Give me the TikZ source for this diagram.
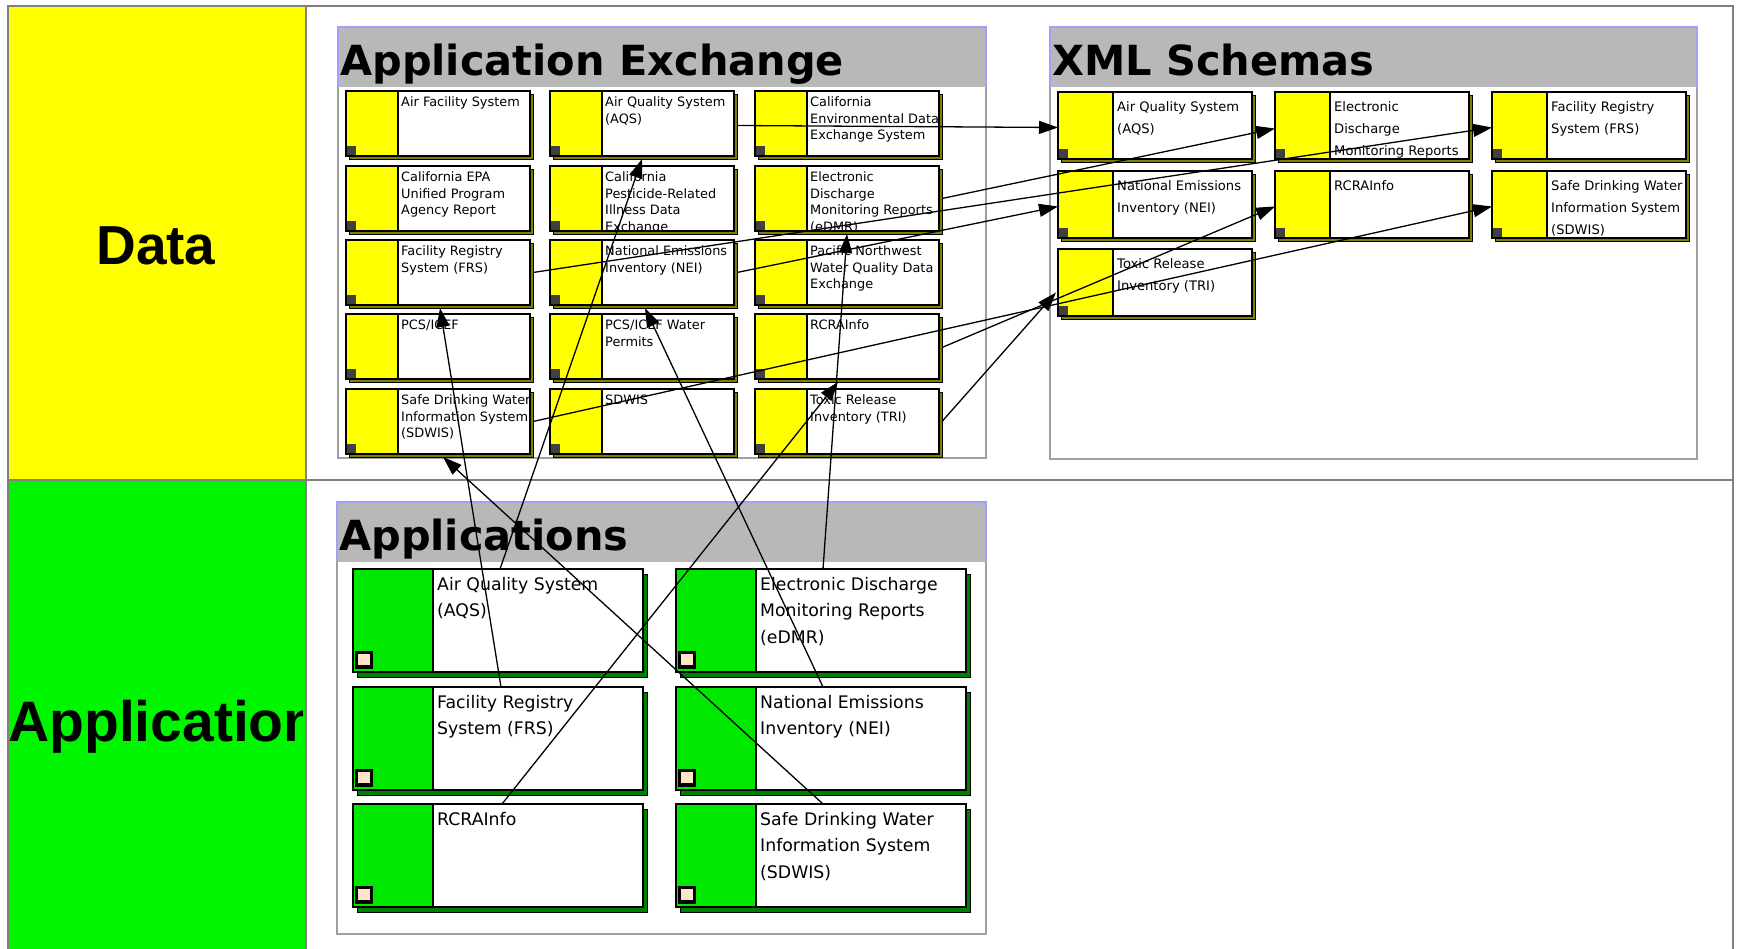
\documentclass[tikz,border=0pt]{standalone}
\usepackage{fontspec}
\setmainfont{DejaVu Sans}
\newfontfamily\lanefont{Liberation Sans}
\usetikzlibrary{arrows.meta,calc}
\definecolor{laneY}{RGB}{255,255,0}
\definecolor{laneG}{RGB}{0,245,0}
\definecolor{boxY}{RGB}{255,255,0}
\definecolor{boxG}{RGB}{0,232,0}
\definecolor{shadowY}{RGB}{128,128,0}
\definecolor{shadowG}{RGB}{0,128,0}
\definecolor{hdrfill}{RGB}{184,184,184}
\definecolor{hdrline}{RGB}{160,160,255}
\definecolor{framegray}{RGB}{160,160,160}
\definecolor{lanegrid}{RGB}{128,128,128}
\definecolor{peach}{RGB}{255,228,200}
\definecolor{darksq}{RGB}{64,64,64}
\newcommand{\smalltxt}{\fontsize{12.9}{16.5}\selectfont}
\newcommand{\xmltxt}{\fontsize{13.1}{21.7}\selectfont}
\newcommand{\apptxt}{\fontsize{17.3}{26.7}\selectfont}
\newcommand{\hdrtxt}{\bfseries\fontsize{41.5}{48}\selectfont}
\newcommand{\lanetxt}{\lanefont\bfseries\fontsize{55}{60}\selectfont}
\newcommand{\lanetxtb}{\lanefont\bfseries\fontsize{57}{60}\selectfont}
\tikzset{
  boxframe/.style={draw=black, line width=1.4pt, inner sep=0pt, outer sep=0pt, anchor=north west},
  conn/.style={line width=1.3pt, -{Triangle[length=19pt,width=13pt]}},
  boxtext/.style={anchor=base west, inner sep=0pt},
  gridline/.style={draw=lanegrid, line width=1.6pt},
}
\newcommand{\exbox}[4]{%
  \fill[shadowY,draw=black,line width=0.6pt] (#2+3,#3+3) rectangle (#2+187,#3+68);
  \fill[white] (#2,#3) rectangle (#2+184,#3+65);
  \fill[boxY] (#2,#3) rectangle (#2+52,#3+65);
  \draw[line width=1.2pt] (#2+52,#3) -- (#2+52,#3+65);
  \fill[darksq] (#2+1,#3+55) rectangle (#2+10,#3+64);
  \begin{scope}
    \clip (#2+53,#3+1) rectangle (#2+183,#3+64);
    \node[boxtext] (#1-t) at (#2+55,#3+16) {\parbox[t]{260pt}{\smalltxt\raggedright #4}};
  \end{scope}
  \node[boxframe, minimum width=184pt, minimum height=65pt] (#1) at (#2,#3) {};
}
\newcommand{\xmlbox}[4]{%
  \fill[shadowY,draw=black,line width=0.6pt] (#2+3,#3+3) rectangle (#2+197,#3+70);
  \fill[white] (#2,#3) rectangle (#2+194,#3+67);
  \fill[boxY] (#2,#3) rectangle (#2+55,#3+67);
  \draw[line width=1.2pt] (#2+55,#3) -- (#2+55,#3+67);
  \fill[darksq] (#2+1,#3+57) rectangle (#2+10,#3+66);
  \begin{scope}
    \clip (#2+56,#3+1) rectangle (#2+193,#3+66);
    \node[boxtext] (#1-t) at (#2+59,#3+20) {\parbox[t]{260pt}{\xmltxt\raggedright #4}};
  \end{scope}
  \node[boxframe, minimum width=194pt, minimum height=67pt] (#1) at (#2,#3) {};
}
\newcommand{\appbox}[4]{%
  \fill[shadowG,draw=black,line width=0.6pt] (#2+4,#3+5) rectangle (#2+294,#3+108);
  \fill[white] (#2,#3) rectangle (#2+290,#3+103);
  \fill[boxG] (#2,#3) rectangle (#2+80,#3+103);
  \draw[line width=1.2pt] (#2+80,#3) -- (#2+80,#3+103);
  \fill[black] (#2+2,#3+82) rectangle (#2+20,#3+100);
  \fill[peach] (#2+5,#3+85) rectangle (#2+17,#3+96);
  \begin{scope}
    \clip (#2+81,#3+1) rectangle (#2+289,#3+102);
    \node[boxtext] (#1-t) at (#2+84,#3+21) {\parbox[t]{260pt}{\apptxt\raggedright #4}};
  \end{scope}
  \node[boxframe, minimum width=290pt, minimum height=103pt] (#1) at (#2,#3) {};
}
\newcommand{\container}[6]{%
  \draw[draw=framegray, line width=1.2pt, fill=white] (#2,#3) rectangle (#4,#5);
  \fill[hdrfill] (#2,#3) rectangle (#4,#3+60);
  \draw[hdrline, line width=1.2pt] (#2,#3+60) -- (#2,#3) -- (#4,#3) -- (#4,#3+60);
  \node[anchor=base west, inner sep=0pt, font=\hdrtxt] (#1) at (#2+2,#3+48.5) {#6};
}
\begin{document}
\begin{tikzpicture}[x=1pt,y=-1pt]
\useasboundingbox (0,0) rectangle (1738,949);
\fill[white] (0,0) rectangle (1738,949);
% swimlanes
\fill[laneY] (8,6) rectangle (306,480);
\fill[laneG] (8,480) rectangle (306,949);
\draw[gridline] (8,949) -- (8,6) -- (1733,6) -- (1733,949);
\draw[gridline] (8,480) -- (1733,480);
\draw[gridline] (306,6) -- (306,949);
\node[anchor=base, inner sep=0pt, font=\lanetxt] (laneData) at (156,265) {Data};
\begin{scope}
  \clip (8,481) rectangle (302,949);
  \node[anchor=base west, inner sep=0pt, font=\lanetxtb] (laneApp) at (8,741) {Application};
\end{scope}
% containers
\container{hdrEx}{338}{27}{986}{458}{Application Exchange}
\container{hdrXml}{1050}{27}{1697}{459}{XML Schemas}
\container{hdrApp}{337}{502}{986}{934}{Applications}
% application exchange boxes
\exbox{exAFS}{346}{91}{Air Facility System}
\exbox{exAQS}{550}{91}{Air Quality System\\(AQS)}
\exbox{exCEDX}{755}{91}{California\\Environmental Data\\Exchange System}
\exbox{exCalEPA}{346}{166}{California EPA\\Unified Program\\Agency Report}
\exbox{exCalPest}{550}{166}{California\\Pesticide-Related\\Illness Data\\Exchange}
\exbox{exEDMR}{755}{166}{Electronic\\Discharge\\Monitoring Reports\\(eDMR)}
\exbox{exFRS}{346}{240}{Facility Registry\\System (FRS)}
\exbox{exNEI}{550}{240}{National Emissions\\Inventory (NEI)}
\exbox{exPNW}{755}{240}{Pacific Northwest\\Water Quality Data\\Exchange}
\exbox{exPCS}{346}{314}{PCS/ICEF}
\exbox{exPCSW}{550}{314}{PCS/ICEF Water\\Permits}
\exbox{exRCRA}{755}{314}{RCRAInfo}
\exbox{exSDW}{346}{389}{Safe Drinking Water\\Information System\\(SDWIS)}
\exbox{exSDWIS}{550}{389}{SDWIS}
\exbox{exTRI}{755}{389}{Toxic Release\\Inventory (TRI)}
% xml schema boxes
\xmlbox{xAQS}{1058}{92}{Air Quality System\\(AQS)}
\xmlbox{xEDMR}{1275}{92}{Electronic\\Discharge\\Monitoring Reports}
\xmlbox{xFRS}{1492}{92}{Facility Registry\\System (FRS)}
\xmlbox{xNEI}{1058}{171}{National Emissions\\Inventory (NEI)}
\xmlbox{xRCRA}{1275}{171}{RCRAInfo}
\xmlbox{xSDWIS}{1492}{171}{Safe Drinking Water\\Information System\\(SDWIS)}
\xmlbox{xTRI}{1058}{249}{Toxic Release\\Inventory (TRI)}
% application boxes
\appbox{aAQS}{353}{569}{Air Quality System\\(AQS)}
\appbox{aFRS}{353}{687}{Facility Registry\\System (FRS)}
\appbox{aRCRA}{353}{804}{RCRAInfo}
\appbox{aEDMR}{676}{569}{Electronic Discharge\\Monitoring Reports\\(eDMR)}
\appbox{aNEI}{676}{687}{National Emissions\\Inventory (NEI)}
\appbox{aSDWIS}{676}{804}{Safe Drinking Water\\Information System\\(SDWIS)}
% applications -> exchanges
\draw[conn] ($(aAQS.north west)+(147,0)$) -- ($(exAQS.south west)+(92,3)$);
\draw[conn] ($(aFRS.north west)+(148,0)$) -- ($(exFRS.south west)+(94,3)$);
\draw[conn] ($(aRCRA.north west)+(149,0)$) -- ($(exRCRA.south west)+(83,3)$);
\draw[conn] ($(aEDMR.north west)+(147,0)$) -- ($(exEDMR.south west)+(92,3)$);
\draw[conn] ($(aNEI.north west)+(147,0)$) -- ($(exNEI.south west)+(95,3)$);
\draw[conn] ($(aSDWIS.north west)+(147,0)$) -- ($(exSDW.south west)+(97,3)$);
% exchanges -> schemas
\draw[conn] ($(exAQS.east)+(3,2)$) -- ($(xAQS.west)+(0,2)$);
\draw[conn] ($(exEDMR.east)+(3,0)$) -- ($(xEDMR.west)+(0,3)$);
\draw[conn] ($(exFRS.east)+(3,0)$) -- ($(xFRS.west)+(0,2)$);
\draw[conn] ($(exNEI.east)+(3,0)$) -- ($(xNEI.west)+(0,2)$);
\draw[conn] ($(exRCRA.east)+(3,1)$) -- ($(xRCRA.west)+(0,2)$);
\draw[conn] ($(exSDW.east)+(3,0)$) -- ($(xSDWIS.west)+(0,2)$);
\draw[conn] ($(exTRI.east)+(3,0)$) -- ($(xTRI.west)+(-2,10)$);
\end{tikzpicture}
\end{document}
